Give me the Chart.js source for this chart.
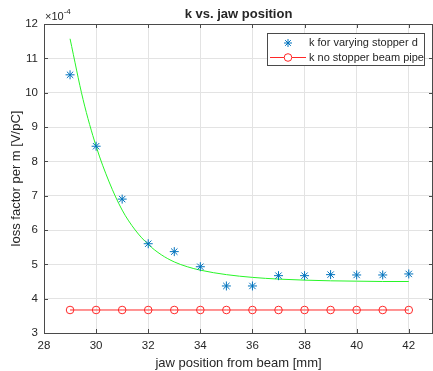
<!DOCTYPE html>
<html>
<head>
<meta charset="utf-8">
<script src="https://cdn.jsdelivr.net/npm/chart.js@4.4.1/dist/chart.umd.min.js"></script>
<style>
html,body{margin:0;padding:0;background:#fff;}
#c{display:block;}
</style>
</head>
<body>
<canvas id="c" width="433" height="371"></canvas>
<script>
// ---- data ----
const jawPositions = [29,30,31,32,33,34,35,36,37,38,39,40,41,42];
const kStopper = [10.52,8.44,6.90,5.60,5.37,4.93,4.37,4.37,4.67,4.67,4.70,4.69,4.69,4.72];
const kBeamPipe = [3.67,3.67,3.67,3.67,3.67,3.67,3.67,3.67,3.67,3.67,3.67,3.67,3.67,3.67];
const fitX = [29,29.5,30,30.5,31,31.5,32,32.5,33,33.5,34,35,36,37,38,39,40,41,42];
const fitY = [11.57,9.80,8.44,7.40,6.58,6.00,5.58,5.28,5.07,4.93,4.83,4.70,4.62,4.57,4.54,4.52,4.51,4.50,4.50];
const xTicks = [28,30,32,34,36,38,40,42];
const yTicks = [3,4,5,6,7,8,9,10,11,12];
const titleText = 'k vs. jaw position';
const xLabel = 'jaw position from beam [mm]';
const yLabel = 'loss factor per m [V/pC]';
const legendLabels = ['k for varying stopper d','k no stopper beam pipe'];

const FONT = '"Liberation Sans", Arial, Helvetica, sans-serif';
const TXT = '#262626';
const BLUE = 'rgb(0,114,189)';
const RED = 'rgb(255,40,40)';
const GREEN = 'rgb(40,245,40)';

const toXY = (xs, ys) => xs.map((x,i)=>({x:x, y:ys[i]}));

const decor = {
  id:'decor',
  afterDatasetsDraw(chart){
    const {ctx, chartArea:a} = chart;
    const xs = chart.scales.x, ys = chart.scales.y;
    ctx.save();
    // box
    ctx.strokeStyle = '#4a4a4a';
    ctx.lineWidth = 1;
    ctx.strokeRect(Math.round(a.left)+0.5, Math.round(a.top)+0.5, Math.round(a.right-a.left)-1, Math.round(a.bottom-a.top));
    // inward ticks
    ctx.beginPath();
    xTicks.forEach(v=>{
      const px = Math.round(xs.getPixelForValue(v))+0.5;
      ctx.moveTo(px, a.bottom); ctx.lineTo(px, a.bottom-4);
      ctx.moveTo(px, a.top); ctx.lineTo(px, a.top+4);
    });
    yTicks.forEach(v=>{
      const py = Math.round(ys.getPixelForValue(v))+0.5;
      ctx.moveTo(a.left, py); ctx.lineTo(a.left+4, py);
      ctx.moveTo(a.right, py); ctx.lineTo(a.right-4, py);
    });
    ctx.stroke();
    // title
    ctx.fillStyle = TXT;
    ctx.font = 'bold 13px ' + FONT;
    ctx.textAlign = 'center';
    ctx.textBaseline = 'alphabetic';
    ctx.fillText(titleText, (a.left+a.right)/2, 18);
    // exponent
    ctx.font = '11px ' + FONT;
    ctx.textAlign = 'left';
    ctx.fillText('\u00d710', a.left+1, 20);
    const w = ctx.measureText('\u00d710').width;
    ctx.font = '8px ' + FONT;
    ctx.fillText('-4', a.left+1+w, 14);
    // x label
    ctx.font = '13px ' + FONT;
    ctx.textAlign = 'center';
    ctx.fillText(xLabel, (a.left+a.right)/2, 367);
    // y label
    ctx.save();
    ctx.translate(20, (a.top+a.bottom)/2);
    ctx.rotate(-Math.PI/2);
    ctx.textAlign = 'center';
    ctx.fillText(yLabel, 0, 0);
    ctx.restore();
    // legend
    const lx = 267, ly = 33, lw = 157, lh = 32;
    ctx.fillStyle = '#fff';
    ctx.fillRect(lx, ly, lw, lh);
    ctx.strokeStyle = '#4a4a4a';
    ctx.lineWidth = 1;
    ctx.strokeRect(lx+0.5, ly+0.5, lw, lh);
    const drawStar = (cx, cy, r) => {
      ctx.beginPath();
      for (let k=0;k<4;k++){
        const ang = k*Math.PI/4;
        ctx.moveTo(cx - r*Math.cos(ang), cy - r*Math.sin(ang));
        ctx.lineTo(cx + r*Math.cos(ang), cy + r*Math.sin(ang));
      }
      ctx.stroke();
    };
    ctx.strokeStyle = BLUE;
    drawStar(288, 43, 4);
    ctx.strokeStyle = RED;
    ctx.beginPath(); ctx.moveTo(270, 57.5); ctx.lineTo(306, 57.5); ctx.stroke();
    ctx.fillStyle = '#fff';
    ctx.beginPath(); ctx.arc(288, 57.5, 3.8, 0, Math.PI*2); ctx.fill(); ctx.stroke();
    ctx.fillStyle = TXT;
    ctx.font = '11px ' + FONT;
    ctx.textAlign = 'left';
    ctx.textBaseline = 'middle';
    ctx.fillText(legendLabels[0], 309, 43);
    ctx.fillText(legendLabels[1], 309, 58);
    ctx.restore();
  }
};

new Chart(document.getElementById('c'), {
  type:'scatter',
  data:{
    datasets:[
      {
        label: legendLabels[0],
        data: toXY(jawPositions, kStopper),
        showLine:false,
        pointStyle:'star',
        pointRadius:4.5,
        borderColor:BLUE,
        backgroundColor:BLUE,
        pointBorderWidth:1,
        order:1
      },
      {
        label:'fit',
        data: toXY(fitX, fitY),
        showLine:true,
        pointRadius:0,
        borderColor:GREEN,
        borderWidth:1,
        cubicInterpolationMode:'monotone',
        order:2
      },
      {
        label: legendLabels[1],
        data: toXY(jawPositions, kBeamPipe),
        showLine:true,
        pointStyle:'circle',
        pointRadius:3.8,
        borderColor:RED,
        backgroundColor:'rgba(255,255,255,0)',
        borderWidth:1,
        pointBorderWidth:1,
        order:0
      }
    ]
  },
  options:{
    responsive:false,
    animation:false,
    devicePixelRatio:1,
    layout:{autoPadding:false, padding:{top:24,right:0,left:0,bottom:0}},
    plugins:{legend:{display:false}, title:{display:false}, tooltip:{enabled:false}},
    scales:{
      x:{
        type:'linear', min:28, max:42.93,
        afterBuildTicks(s){ s.ticks = xTicks.map(v=>({value:v})); },
        afterFit(s){ s.height = 38; s.paddingLeft = 0; s.paddingRight = 0; },
        grid:{color:'#e3e3e3', drawTicks:false, lineWidth:1},
        border:{display:false},
        ticks:{font:{family:FONT,size:11.5}, color:TXT, padding:6, maxRotation:0, autoSkip:false}
      },
      y:{
        type:'linear', min:3, max:12,
        afterBuildTicks(s){ s.ticks = yTicks.map(v=>({value:v})); },
        afterFit(s){ s.width = 44; s.paddingTop = 0; s.paddingBottom = 0; },
        grid:{color:'#e3e3e3', drawTicks:false, lineWidth:1},
        border:{display:false},
        ticks:{font:{family:FONT,size:11.5}, color:TXT, padding:6, autoSkip:false}
      }
    }
  },
  plugins:[decor]
});
</script>
</body>
</html>
